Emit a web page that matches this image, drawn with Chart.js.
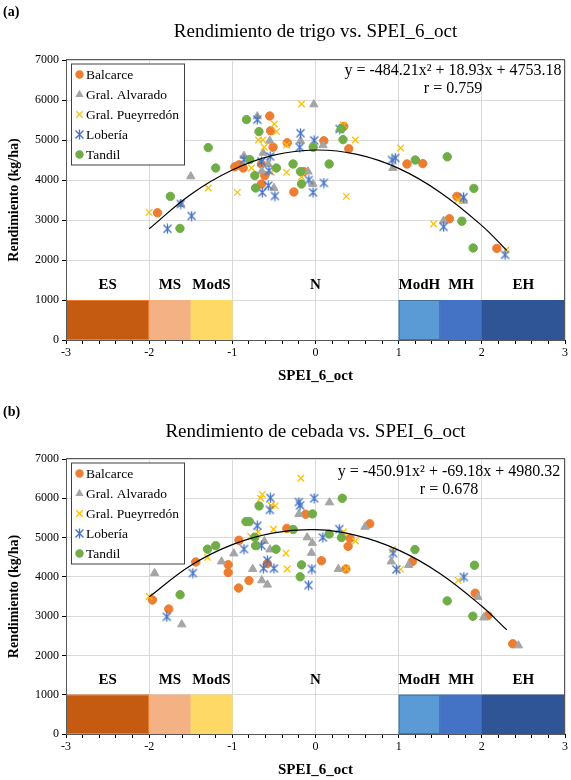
<!DOCTYPE html>
<html lang="es">
<head>
<meta charset="UTF-8">
<title>Rendimiento vs. SPEI_6_oct</title>
<script src="https://cdn.jsdelivr.net/npm/chart.js"></script>
<style>
  html, body { margin: 0; padding: 0; background: #fff; }
  canvas { display: block; }
</style>
</head>
<body>
<canvas id="chartA" width="571" height="395"></canvas>
<canvas id="chartB" width="571" height="385"></canvas>

<script>
// ---- data ----
const SERIES_NAMES = ['Balcarce', 'Gral. Alvarado', 'Gral. Pueyrredón', 'Lobería', 'Tandil'];

// (a) trigo
const TRIGO_BALCARCE_X = [-1.90, -0.97, -0.92, -0.87, -0.65, -0.65, -0.61, -0.55, -0.54, -0.51, -0.34, -0.26, -0.14, 0.10, 0.34, 0.40, 1.10, 1.29, 1.70, 1.61, 2.18];
const TRIGO_BALCARCE_Y = [3180, 4330, 4380, 4300, 4400, 3900, 4110, 5600, 5230, 4820, 4930, 3700, 4210, 4980, 5340, 4780, 4400, 4410, 3590, 3030, 2290];
const TRIGO_ALVARADO_X = [-1.62, -1.50, -0.86, -0.70, -0.63, -0.645, -0.57, -0.55, -0.50, -0.18, -0.09, -0.03, -0.02, 0.09, 0.29, 0.93, 1.54, 1.78];
const TRIGO_ALVARADO_Y = [3400, 4090, 4600, 5590, 4680, 4220, 4400, 4980, 3800, 4980, 4210, 3900, 5890, 4870, 5280, 4300, 2980, 3480];
const TRIGO_PUEYRREDON_X = [-2.00, -1.29, -0.94, -0.77, -0.685, -0.633, -0.616, -0.53, -0.496, -0.468, -0.348, -0.348, -0.168, -0.168, 0.335, 0.371, 0.479, 1.024, 1.42, 1.712, 2.29];
const TRIGO_PUEYRREDON_Y = [3190, 3800, 3690, 4300, 5000, 5000, 4820, 4190, 5400, 5210, 4190, 4875, 5900, 4080, 5375, 3590, 5000, 4800, 2900, 3500, 2250];
const TRIGO_LOBERIA_X = [-1.78, -1.62, -1.49, -0.86, -0.70, -0.65, -0.64, -0.568, -0.56, -0.545, -0.488, -0.19, -0.18, -0.08, -0.03, -0.016, 0.10, 0.29, 0.92, 0.96, 1.54, 1.78, 2.28];
const TRIGO_LOBERIA_Y = [2780, 3400, 3100, 4510, 5510, 4460, 3690, 3860, 4230, 4590, 3600, 4820, 5170, 4000, 3690, 4990, 3925, 5275, 4500, 4550, 2830, 3570, 2130];
const TRIGO_TANDIL_X = [-1.745, -1.63, -1.29, -1.20, -0.83, -0.79, -0.73, -0.72, -0.68, -0.47, -0.27, -0.18, -0.168, -0.028, 0.164, 0.311, 0.331, 1.20, 1.584, 1.76, 1.896, 1.904];
const TRIGO_TANDIL_Y = [3590, 2790, 4810, 4300, 5510, 4510, 4110, 3800, 5210, 4300, 4400, 4210, 3900, 4820, 4400, 5280, 5010, 4500, 4580, 2970, 2300, 3790];
const TRIGO_TREND_X = [-2, -1.5, -1, -0.5, 0, 0.5, 1, 1.5, 2, 2.3];
const TRIGO_TREND_Y = [2780, 3640, 4250, 4620, 4750, 4640, 4290, 3690, 2860, 2240];

// (b) cebada
const CEBADA_BALCARCE_X = [-1.96, -1.765, -1.44, -1.05, -1.05, -0.925, -0.92, -0.80, -0.58, -0.345, -0.118, 0.072, 0.365, 0.392, 0.415, 0.652, 1.164, 1.92, 2.072, 2.372];
const CEBADA_BALCARCE_Y = [3410, 3180, 4380, 4310, 4110, 3715, 4930, 3905, 4340, 5233, 5593, 4410, 4200, 4777, 4980, 5350, 4390, 3583, 3014, 2296];
const CEBADA_ALVARADO_X = [-1.935, -1.608, -1.13, -0.982, -0.755, -0.646, -0.615, -0.578, -0.547, -0.2, -0.1, -0.048, -0.038, 0.168, 0.275, 0.595, 0.911, 1.12, 1.952, 2.022, 2.44];
const CEBADA_ALVARADO_Y = [4095, 2788, 4390, 4595, 4200, 3910, 4908, 3800, 4696, 5598, 5003, 4610, 4863, 5894, 4200, 5272, 4390, 4301, 3488, 2963, 2254];
const CEBADA_PUEYRREDON_X = [-2.0, -1.298, -0.78, -0.69, -0.66, -0.64, -0.533, -0.505, -0.485, -0.355, -0.34, -0.176, 0.336, 0.371, 0.48, 0.928, 1.022, 1.716];
const CEBADA_PUEYRREDON_Y = [3500, 4497, 5035, 5140, 6000, 6100, 5818, 5213, 5806, 4603, 4200, 6510, 5150, 4205, 4913, 4697, 4190, 3910];
const CEBADA_LOBERIA_X = [-1.788, -1.475, -0.86, -0.70, -0.65, -0.625, -0.578, -0.548, -0.542, -0.50, -0.2, -0.185, -0.084, -0.044, -0.016, 0.088, 0.286, 0.932, 0.972, 1.784];
const CEBADA_LOBERIA_Y = [2984, 4095, 4709, 5302, 4794, 4220, 4420, 5705, 6008, 4215, 5905, 5818, 3788, 4200, 6000, 5004, 5214, 4605, 4190, 3995];
const CEBADA_TANDIL_X = [-1.628, -1.298, -1.2, -0.836, -0.796, -0.73, -0.72, -0.678, -0.475, -0.268, -0.184, -0.168, -0.036, 0.164, 0.312, 0.322, 1.196, 1.584, 1.892, 1.912];
const CEBADA_TANDIL_Y = [3545, 4705, 4794, 5407, 5407, 5010, 4794, 5806, 4705, 5204, 4002, 4306, 5602, 5091, 5000, 6000, 4695, 3388, 2998, 4296];
const CEBADA_TREND_X = [-2, -1.5, -1, -0.5, 0, 0.5, 1, 1.5, 2, 2.3];
const CEBADA_TREND_Y = [3490, 4290, 4820, 5120, 5200, 5050, 4680, 4080, 3250, 2650];

// SPEI classes drawn as bands 0..1000
const CLASS_LABELS = ['ES', 'MS', 'ModS', 'N', 'ModH', 'MH', 'EH'];
const CLASS_FROM   = [-3, -2, -1.5, -1, 1, 1.5, 2];
const CLASS_TO     = [-2, -1.5, -1, 1, 1.5, 2, 3];
const CLASS_TOP    = 1000;
const CLASS_LABEL_Y = 1375;

// ---- styles ----
const FONT = "'Liberation Serif', 'Times New Roman', serif";
const CLASS_FILL = ['#C55A11', '#F4B183', '#FFD966', null, '#5B9BD5', '#4472C4', '#2F5597'];
const CLASS_LINE = ['#ED7D31', '#F4B183', '#FFD966', null, '#41719C', '#4472C4', '#2F5597'];

function starMarker(color) {
  const c = document.createElement('canvas');
  c.width = c.height = 11;
  const g = c.getContext('2d');
  g.strokeStyle = color;
  g.lineWidth = 1.3;
  g.beginPath();
  g.moveTo(1.5, 1.5); g.lineTo(9.5, 9.5);
  g.moveTo(9.5, 1.5); g.lineTo(1.5, 9.5);
  g.moveTo(5.5, 0.5); g.lineTo(5.5, 10.5);
  g.stroke();
  return c;
}

const MARKERS = [
  { pointStyle: 'circle',   pointRadius: 4.2, color: '#ED7D31', pointBorderWidth: 1 },
  { pointStyle: 'triangle', pointRadius: 4.8, color: '#A5A5A5', pointBorderWidth: 1 },
  { pointStyle: 'crossRot', pointRadius: 4.6, color: '#FFC000', pointBorderWidth: 1.3 },
  { pointStyle: starMarker('#4472C4'), pointRadius: 5, color: '#4472C4', pointBorderWidth: 1 },
  { pointStyle: 'circle',   pointRadius: 4.2, color: '#70AD47', pointBorderWidth: 1 }
];

const isInt = v => Math.abs(v - Math.round(v)) < 1e-6;
const toPts = (xs, ys) => xs.map((x, i) => ({ x: x, y: ys[i] }));

function drawMarker(ctx, m, x, y) {
  ctx.save();
  ctx.fillStyle = m.color;
  ctx.strokeStyle = m.color;
  ctx.lineWidth = m.pointBorderWidth;
  const r = m.pointRadius;
  if (m.pointStyle === 'circle') {
    ctx.beginPath(); ctx.arc(x, y, r, 0, Math.PI * 2); ctx.fill();
  } else if (m.pointStyle === 'triangle') {
    ctx.beginPath();
    ctx.moveTo(x, y - r);
    ctx.lineTo(x + r * 0.866, y + r * 0.5);
    ctx.lineTo(x - r * 0.866, y + r * 0.5);
    ctx.closePath(); ctx.fill();
  } else if (m.pointStyle === 'crossRot') {
    const d = r * 0.707;
    ctx.beginPath();
    ctx.moveTo(x - d, y - d); ctx.lineTo(x + d, y + d);
    ctx.moveTo(x + d, y - d); ctx.lineTo(x - d, y + d);
    ctx.stroke();
  } else {
    ctx.drawImage(m.pointStyle, x - m.pointStyle.width / 2, y - m.pointStyle.height / 2);
  }
  ctx.restore();
}

const decor = {
  id: 'decor',
  beforeDatasetsDraw(chart, args, o) {
    const { ctx, scales: { x, y } } = chart;
    ctx.save();
    CLASS_FROM.forEach((f, i) => {
      if (!CLASS_FILL[i]) return;
      const x0 = x.getPixelForValue(f), x1 = x.getPixelForValue(CLASS_TO[i]);
      const y0 = y.getPixelForValue(CLASS_TOP), y1 = y.getPixelForValue(0);
      ctx.fillStyle = CLASS_FILL[i];
      ctx.fillRect(x0, y0, x1 - x0, y1 - y0);
      ctx.strokeStyle = CLASS_LINE[i];
      ctx.lineWidth = 1;
      ctx.strokeRect(x0 + 0.5, y0 + 0.5, x1 - x0 - 1, y1 - y0 - 1);
    });
    ctx.restore();
  },
  afterDraw(chart, args, o) {
    const { ctx, chartArea: a, scales: { x, y } } = chart;
    ctx.save();
    // plot frame
    ctx.strokeStyle = '#595959';
    ctx.lineWidth = 1;
    ctx.strokeRect(a.left + 0.5, a.top - 0.5, a.right - a.left - 1, a.bottom - a.top + 1);

    // class labels
    ctx.fillStyle = '#000';
    ctx.font = 'bold 15px ' + FONT;
    ctx.textAlign = 'center';
    ctx.textBaseline = 'middle';
    CLASS_LABELS.forEach((t, i) => {
      const cx = x.getPixelForValue((CLASS_FROM[i] + CLASS_TO[i]) / 2);
      ctx.fillText(t, cx, y.getPixelForValue(CLASS_LABEL_Y));
    });

    // legend box
    const lx = a.left + 5, ly = a.top + 3.5, lw = 113, lh = 101;
    ctx.fillStyle = '#fff';
    ctx.fillRect(lx, ly, lw, lh);
    ctx.strokeStyle = '#404040';
    ctx.strokeRect(lx + 0.5, ly + 0.5, lw, lh);
    ctx.font = '13.5px ' + FONT;
    ctx.textAlign = 'left';
    SERIES_NAMES.forEach((n, i) => {
      const ey = ly + 11 + i * 20;
      drawMarker(ctx, MARKERS[i], lx + 8.5, ey);
      ctx.fillStyle = '#000';
      ctx.fillText(n, lx + 15, ey + 0.5);
    });

    // equation
    ctx.font = '16px ' + FONT;
    ctx.textAlign = 'center';
    ctx.fillStyle = '#000';
    ctx.fillText(o.eq, o.eqX, a.top + o.eqDy);
    ctx.fillText(o.r, o.eqX, a.top + o.eqDy + 18);

    // title and panel label
    ctx.font = '19px ' + FONT;
    ctx.fillText(o.title, x.getPixelForValue(0), o.titleY);
    ctx.font = 'bold 14px ' + FONT;
    ctx.textAlign = 'left';
    ctx.fillText(o.panel, 3, o.panelY);
    ctx.restore();
  }
};

function makeChart(id, s) {
  const datasets = s.series.map((p, i) => ({
    label: SERIES_NAMES[i],
    data: toPts(p[0], p[1]),
    pointStyle: MARKERS[i].pointStyle,
    pointRadius: MARKERS[i].pointRadius,
    pointHoverRadius: MARKERS[i].pointRadius,
    pointBorderWidth: MARKERS[i].pointBorderWidth,
    backgroundColor: MARKERS[i].color,
    borderColor: MARKERS[i].color,
    order: 5 - i
  }));
  datasets.push({
    label: 'trend',
    data: toPts(s.trendX, s.trendY),
    showLine: true,
    pointRadius: 0,
    borderColor: '#000',
    borderWidth: 1.2,
    tension: 0.4,
    order: 0
  });

  return new Chart(document.getElementById(id), {
    type: 'scatter',
    data: { datasets: datasets },
    plugins: [decor],
    options: {
      responsive: false,
      animation: false,
      devicePixelRatio: 1,
      layout: { padding: { top: s.top, right: 4, left: 0, bottom: 0 } },
      plugins: {
        legend: { display: false },
        tooltip: { enabled: false },
        decor: s.decor
      },
      scales: {
        x: {
          type: 'linear', min: -3, max: 3,
          ticks: {
            stepSize: 0.2, autoSkip: false, maxRotation: 0, padding: 2,
            color: '#000', font: { family: FONT, size: 12 },
            callback: v => isInt(v) ? String(Math.round(v)) : ''
          },
          grid: {
            color: c => (c.tick && isInt(c.tick.value)) ? '#d9d9d9' : 'rgba(0,0,0,0)',
            tickColor: '#000', tickLength: 4
          },
          border: { color: '#000' },
          title: {
            display: true, text: 'SPEI_6_oct', color: '#000',
            font: { family: FONT, size: 15, weight: 'bold' },
            padding: { top: 0, bottom: s.xTitlePad }
          },
          afterFit: sc => { sc.height = s.xHeight; }
        },
        y: {
          min: 0, max: 7000,
          ticks: {
            stepSize: 1000, padding: 3, color: '#000',
            font: { family: FONT, size: 12 },
            callback: v => String(v)
          },
          grid: { color: '#d9d9d9', tickColor: '#000', tickLength: 4 },
          border: { color: '#000' },
          title: {
            display: true, text: 'Rendimiento (kg/ha)', color: '#000',
            font: { family: FONT, size: 14, weight: 'bold' },
            padding: { top: 6, bottom: 0 }
          },
          afterFit: sc => { sc.width = 66; }
        }
      }
    }
  });
}

makeChart('chartA', {
  top: 60, xHeight: 55, xTitlePad: 10,
  series: [
    [TRIGO_BALCARCE_X, TRIGO_BALCARCE_Y],
    [TRIGO_ALVARADO_X, TRIGO_ALVARADO_Y],
    [TRIGO_PUEYRREDON_X, TRIGO_PUEYRREDON_Y],
    [TRIGO_LOBERIA_X, TRIGO_LOBERIA_Y],
    [TRIGO_TANDIL_X, TRIGO_TANDIL_Y]
  ],
  trendX: TRIGO_TREND_X, trendY: TRIGO_TREND_Y,
  decor: {
    title: 'Rendimiento de trigo vs. SPEI_6_oct', titleY: 32,
    panel: '(a)', panelY: 12,
    eq: 'y = -484.21x² + 18.93x + 4753.18', r: 'r = 0.759', eqX: 453, eqDy: 11
  }
});

makeChart('chartB', {
  top: 64, xHeight: 46, xTitlePad: 1,
  series: [
    [CEBADA_BALCARCE_X, CEBADA_BALCARCE_Y],
    [CEBADA_ALVARADO_X, CEBADA_ALVARADO_Y],
    [CEBADA_PUEYRREDON_X, CEBADA_PUEYRREDON_Y],
    [CEBADA_LOBERIA_X, CEBADA_LOBERIA_Y],
    [CEBADA_TANDIL_X, CEBADA_TANDIL_Y]
  ],
  trendX: CEBADA_TREND_X, trendY: CEBADA_TREND_Y,
  decor: {
    title: 'Rendimiento de cebada vs. SPEI_6_oct', titleY: 37,
    panel: '(b)', panelY: 17,
    eq: 'y = -450.91x² + -69.18x + 4980.32', r: 'r = 0.678', eqX: 449, eqDy: 13
  }
});
</script>
</body>
</html>
